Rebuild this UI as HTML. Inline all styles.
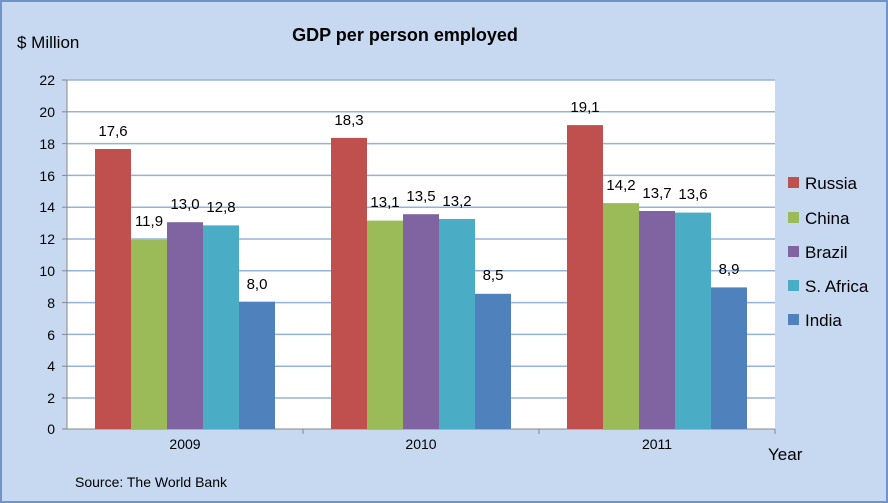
<!DOCTYPE html><html><head><style>body{margin:0}svg{display:block}text{font-family:"Liberation Sans",sans-serif}</style></head><body>
<svg width="888" height="503" xmlns="http://www.w3.org/2000/svg">
<rect x="1" y="1" width="886" height="501" fill="#c6d9f1" stroke="#6f95c8" stroke-width="2"/>
<text x="17" y="48" font-size="17">$ Million</text>
<text x="405" y="41" font-size="18" font-weight="bold" text-anchor="middle">GDP per person employed</text>
<rect x="67" y="80" width="708" height="349" fill="#fff"/>
<g stroke="#95b3d7" stroke-width="1.5">
<line x1="67" x2="775" y1="80" y2="80"/><line x1="67" x2="775" y1="111.8" y2="111.8"/><line x1="67" x2="775" y1="143.6" y2="143.6"/><line x1="67" x2="775" y1="175.4" y2="175.4"/><line x1="67" x2="775" y1="207.2" y2="207.2"/><line x1="67" x2="775" y1="239" y2="239"/><line x1="67" x2="775" y1="270.8" y2="270.8"/><line x1="67" x2="775" y1="302.6" y2="302.6"/><line x1="67" x2="775" y1="334.4" y2="334.4"/><line x1="67" x2="775" y1="366.2" y2="366.2"/><line x1="67" x2="775" y1="398" y2="398"/>
</g>
<g stroke="#888" stroke-width="1">
<line x1="67" x2="67" y1="80" y2="429"/><line x1="67" x2="775" y1="429" y2="429"/>
<line x1="62" x2="67" y1="80" y2="80"/><line x1="62" x2="67" y1="111.8" y2="111.8"/><line x1="62" x2="67" y1="143.6" y2="143.6"/><line x1="62" x2="67" y1="175.4" y2="175.4"/><line x1="62" x2="67" y1="207.2" y2="207.2"/><line x1="62" x2="67" y1="239" y2="239"/><line x1="62" x2="67" y1="270.8" y2="270.8"/><line x1="62" x2="67" y1="302.6" y2="302.6"/><line x1="62" x2="67" y1="334.4" y2="334.4"/><line x1="62" x2="67" y1="366.2" y2="366.2"/><line x1="62" x2="67" y1="398" y2="398"/><line x1="62" x2="67" y1="429" y2="429"/>
<line x1="303" x2="303" y1="429" y2="434"/><line x1="539" x2="539" y1="429" y2="434"/><line x1="775" x2="775" y1="429" y2="434"/>
</g>
<g font-size="14" text-anchor="end">
<text x="55" y="85">22</text><text x="55" y="117">20</text><text x="55" y="149">18</text><text x="55" y="181">16</text><text x="55" y="212">14</text><text x="55" y="244">12</text><text x="55" y="276">10</text><text x="55" y="308">8</text><text x="55" y="340">6</text><text x="55" y="371">4</text><text x="55" y="403">2</text><text x="55" y="434">0</text>
</g>
<g>
<rect x="95" y="149" width="36" height="280" fill="#c0504d"/><rect x="131" y="239.7" width="36" height="189.3" fill="#9bbb59"/><rect x="167" y="222.2" width="36" height="206.8" fill="#8064a2"/><rect x="203" y="225.4" width="36" height="203.6" fill="#4bacc6"/><rect x="239" y="301.7" width="36" height="127.3" fill="#4f81bd"/>
<rect x="331" y="137.9" width="36" height="291.1" fill="#c0504d"/><rect x="367" y="220.6" width="36" height="208.4" fill="#9bbb59"/><rect x="403" y="214.2" width="36" height="214.8" fill="#8064a2"/><rect x="439" y="219" width="36" height="210" fill="#4bacc6"/><rect x="475" y="293.8" width="36" height="135.2" fill="#4f81bd"/>
<rect x="567" y="125.1" width="36" height="303.9" fill="#c0504d"/><rect x="603" y="203.1" width="36" height="225.9" fill="#9bbb59"/><rect x="639" y="211" width="36" height="218" fill="#8064a2"/><rect x="675" y="212.6" width="36" height="216.4" fill="#4bacc6"/><rect x="711" y="287.4" width="36" height="141.6" fill="#4f81bd"/>
</g>
<g font-size="15" text-anchor="middle">
<text x="113" y="136">17,6</text><text x="149" y="226">11,9</text><text x="185" y="209">13,0</text><text x="221" y="212">12,8</text><text x="257" y="289">8,0</text>
<text x="349" y="125">18,3</text><text x="385" y="207">13,1</text><text x="421" y="201">13,5</text><text x="457" y="206">13,2</text><text x="493" y="280">8,5</text>
<text x="585" y="112">19,1</text><text x="621" y="190">14,2</text><text x="657" y="198">13,7</text><text x="693" y="199">13,6</text><text x="729" y="274">8,9</text>
</g>
<g font-size="14" text-anchor="middle"><text x="185" y="449">2009</text><text x="421" y="449">2010</text><text x="657" y="449">2011</text></g>
<text x="768" y="460" font-size="17">Year</text>
<text x="75" y="487" font-size="14">Source:  The World Bank</text>
<g font-size="17">
<rect x="788" y="177" width="11" height="11" fill="#c0504d"/><text x="805" y="189">Russia</text>
<rect x="788" y="212" width="11" height="11" fill="#9bbb59"/><text x="805" y="224">China</text>
<rect x="788" y="246" width="11" height="11" fill="#8064a2"/><text x="805" y="258">Brazil</text>
<rect x="788" y="280" width="11" height="11" fill="#4bacc6"/><text x="805" y="292">S. Africa</text>
<rect x="788" y="314" width="11" height="11" fill="#4f81bd"/><text x="805" y="326">India</text>
</g>
</svg></body></html>
